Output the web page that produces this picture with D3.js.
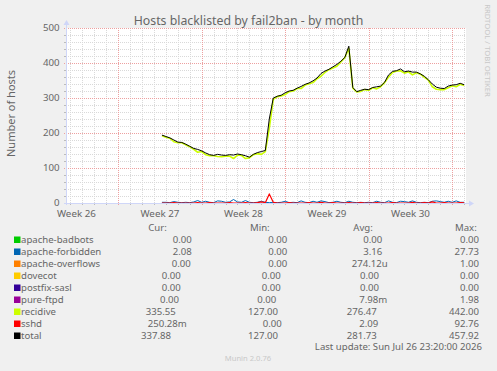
<!DOCTYPE html>
<html>
<head>
<meta charset="utf-8">
<script src="https://cdn.jsdelivr.net/npm/d3@7"></script>
<style>
  body { margin: 0; background: #f0f0f0; }
  svg { display: block; font-family: "Noto Sans", sans-serif; }
</style>
</head>
<body>
<svg id="chart" width="497" height="371"></svg>
<script>
// samples every 8 hours, first one at Jul 1 16:00
const seriesStart = "2026-07-01T16:00:00Z";
const stepHours = 8;

const total = [194, 190, 186, 180, 174, 173, 168, 162, 156, 153, 149, 143, 138, 136, 139, 137,
  136, 138, 137, 140, 138, 135, 131, 139, 144, 147, 150, 240, 300, 305, 308, 315,
  320, 322, 328, 333, 339, 343, 349, 357, 370, 377, 382, 389, 396, 405, 416, 448,
  330, 318, 322, 325, 324, 330, 332, 334, 345, 366, 376, 378, 383, 375, 377, 374,
  374, 369, 362, 352, 340, 331, 328, 327, 334, 337, 338, 342, 338];
const recidive = [192, 188, 185, 175, 172, 172, 166, 161, 153, 145, 147, 138, 135, 135, 133, 132,
  134, 134, 127, 137, 136, 127, 129, 138, 141, 139, 147, 213, 296, 304, 306, 310,
  318, 320, 327, 327, 337, 341, 344, 355, 362, 373, 381, 386, 391, 403, 415, 442,
  328, 317, 319, 324, 322, 329, 326, 332, 344, 360, 373, 377, 378, 371, 375, 366,
  372, 368, 359, 351, 332, 325, 324, 324, 329, 335, 332, 339, 335.5];
const forbidden = [2, 2, 1, 4, 2, 1, 2, 1, 3, 7, 2, 5, 2, 1, 6, 5,
  2, 3, 10, 3, 2, 7, 2, 1, 2, 5, 2, 1, 2, 1, 2, 5,
  1, 2, 1, 6, 2, 1, 5, 2, 6, 4, 1, 2, 5, 2, 1, 5,
  2, 1, 2, 1, 2, 1, 5, 2, 1, 6, 2, 1, 5, 4, 2, 6,
  2, 1, 2, 1, 5, 6, 4, 2, 5, 2, 6, 2, 2];
const sshd = [0, 0, 0, 1, 0, 0, 0, 0, 0, 1, 0, 0, 1, 0, 0, 0,
  0, 1, 0, 0, 0, 1, 0, 0, 1, 3, 1, 26, 2, 0, 0, 0,
  1, 0, 0, 0, 0, 1, 0, 0, 2, 0, 0, 1, 0, 0, 0, 1,
  0, 0, 1, 0, 0, 0, 1, 0, 0, 0, 1, 0, 0, 0, 0, 2,
  0, 0, 1, 0, 3, 0, 0, 1, 0, 0, 0, 1, 0.25];

const fieldNames = ["apache-badbots", "apache-forbidden", "apache-overflows", "dovecot",
  "postfix-sasl", "pure-ftpd", "recidive", "sshd", "total"];
const fieldColors = ["#00cc00", "#0066b3", "#ff8000", "#ffcc00", "#330099", "#990099",
  "#ccff00", "#ff0000", "#000000"];
const curValues = ["0.00", "2.08", "0.00", "0.00", "0.00", "0.00", "335.55", "250.28m", "337.88"];
const minValues = ["0.00", "0.00", "0.00", "0.00", "0.00", "0.00", "127.00", "0.00", "127.00"];
const avgValues = ["0.00", "3.16", "274.12u", "0.00", "0.00", "7.98m", "276.47", "2.09", "281.73"];
const maxValues = ["0.00", "27.73", "1.00", "0.00", "0.00", "1.98", "442.00", "92.76", "457.92"];
const yTicks = [0, 100, 200, 300, 400, 500];
const lastUpdate = "Last update: Sun Jul 26 23:20:00 2026";

// legend column starts per row (justified rrdtool legend)
const curX = [172.7, 172.7, 171.7, 161.7, 161.7, 160, 145.7, 147.7, 141];
const minX = [268.3, 268.3, 268.3, 261.7, 261.7, 257.3, 248, 262.7, 248];
const avgX = [363.3, 363.3, 351.7, 360, 360, 359.3, 346.7, 359.3, 346.7];

const textColor = "#666";
const svg = d3.select("#chart");

const plotLeft = 66, plotRight = 466, plotTop = 28, plotBottom = 203;
const x = d3.scaleUtc()
  .domain([new Date("2026-06-23T15:00:00Z"), new Date("2026-07-27T03:45:00Z")])
  .range([plotLeft, plotRight]);
const y = d3.scaleLinear().domain([0, 500]).range([plotBottom, plotTop]);

// canvas
svg.append("rect").attr("x", plotLeft).attr("y", plotTop)
  .attr("width", plotRight - plotLeft).attr("height", plotBottom - plotTop).attr("fill", "#fff");

const grid = svg.append("g").attr("shape-rendering", "crispEdges");
const [d0, d1] = x.domain();
const days = d3.utcDay.range(d0, d1);
const weeks = d3.utcSunday.range(d0, d1).map(d => +d);

// minor grid
y.ticks(25).filter(v => v % 100 !== 0).forEach(v => {
  const py = Math.round(y(v)) + 0.5;
  grid.append("line").attr("x1", plotLeft).attr("x2", plotRight).attr("y1", py).attr("y2", py)
    .attr("stroke", "#d9d9d9").attr("stroke-dasharray", "1,1");
  grid.append("line").attr("x1", plotLeft - 2).attr("x2", plotLeft).attr("y1", py).attr("y2", py)
    .attr("stroke", "#bbb");
});
days.filter(d => !weeks.includes(+d)).forEach(d => {
  const px = Math.round(x(d)) + 0.5;
  grid.append("line").attr("x1", px).attr("x2", px).attr("y1", plotTop).attr("y2", plotBottom)
    .attr("stroke", "#d9d9d9").attr("stroke-dasharray", "1,1");
  grid.append("line").attr("x1", px).attr("x2", px).attr("y1", plotBottom).attr("y2", plotBottom + 2)
    .attr("stroke", "#bbb");
});

// major grid
yTicks.forEach(v => {
  const py = Math.round(y(v)) + 0.5;
  grid.append("line").attr("x1", plotLeft - 2).attr("x2", plotRight).attr("y1", py).attr("y2", py)
    .attr("stroke", "#eda0a0").attr("stroke-dasharray", "1,1");
});
weeks.forEach(d => {
  const px = Math.round(x(d)) + 0.5;
  grid.append("line").attr("x1", px).attr("x2", px).attr("y1", plotTop).attr("y2", plotBottom + 2)
    .attr("stroke", "#eda0a0").attr("stroke-dasharray", "1,1");
});

// y labels
svg.append("g").selectAll("text").data(yTicks).join("text")
  .attr("x", 59.5).attr("y", d => y(d)).attr("dy", "0.36em")
  .attr("text-anchor", "end").attr("font-size", 9.7).attr("fill", textColor)
  .text(d => d);

// week labels, centred mid-week
const weekFmt = d3.utcFormat("Week %V");
const labelTimes = d3.utcSunday.range(d3.utcSunday.floor(d0), d1)
  .map(d => d3.utcHour.offset(d, 84))
  .filter(d => d >= d0 && d <= d1);
svg.append("g").selectAll("text").data(labelTimes).join("text")
  .attr("x", d => x(d)).attr("y", 216.5).attr("text-anchor", "middle")
  .attr("font-size", 9.8).attr("fill", textColor)
  .text(d => weekFmt(d));

// data lines
svg.append("clipPath").attr("id", "clip").append("rect")
  .attr("x", plotLeft).attr("y", plotTop - 10)
  .attr("width", plotRight - plotLeft).attr("height", plotBottom - plotTop + 12);
const t0 = new Date(seriesStart);
const times = total.map((_, i) => d3.utcHour.offset(t0, i * stepHours));
const line = d3.line().x((d, i) => x(times[i])).y(d => y(d));
const plotted = [
  { values: forbidden, color: fieldColors[1], width: 1 },
  { values: recidive, color: fieldColors[6], width: 1.6 },
  { values: sshd, color: fieldColors[7], width: 1.2 },
  { values: total, color: fieldColors[8], width: 1 }
];
svg.append("g").attr("clip-path", "url(#clip)")
  .selectAll("path").data(plotted).join("path")
  .attr("d", d => line(d.values))
  .attr("fill", "none").attr("stroke", d => d.color)
  .attr("stroke-width", d => d.width).attr("stroke-linejoin", "round");

// axes with arrows
const axisColor = "#cfd6f8";
svg.append("line").attr("x1", plotLeft - 2).attr("x2", 470)
  .attr("y1", plotBottom + 0.5).attr("y2", plotBottom + 0.5).attr("stroke", axisColor);
svg.append("path").attr("d", `M469,${plotBottom - 2.5}L474,${plotBottom + 0.5}L469,${plotBottom + 3.5}Z`)
  .attr("fill", axisColor);
svg.append("line").attr("x1", plotLeft + 0.5).attr("x2", plotLeft + 0.5)
  .attr("y1", plotBottom + 2).attr("y2", 24).attr("stroke", axisColor);
svg.append("path").attr("d", `M${plotLeft - 2.5},25L${plotLeft + 0.5},20L${plotLeft + 3.5},25Z`)
  .attr("fill", axisColor);

// title and axis label
svg.append("text").attr("x", 248.5).attr("y", 24.5).attr("text-anchor", "middle")
  .attr("font-size", 12.3).attr("fill", textColor)
  .text("Hosts blacklisted by fail2ban - by month");
svg.append("text").attr("transform", "translate(14.5,113.5) rotate(-90)")
  .attr("text-anchor", "middle").attr("font-size", 11).attr("fill", textColor)
  .text("Number of hosts");
svg.append("text").attr("transform", "translate(485,50.5) rotate(90)")
  .attr("text-anchor", "middle").attr("font-size", 7.7).attr("fill", "#c8c8c8")
  .text("RRDTOOL / TOBI OETIKER");

// legend
const legend = svg.append("g").attr("font-size", 9.6).attr("fill", textColor);
[["Cur:", 148.3], ["Min:", 250], ["Avg:", 353.3], ["Max:", 455]].forEach(([h, hx]) => {
  legend.append("text").attr("x", hx).attr("y", 231).text(h);
});
fieldNames.forEach((name, i) => {
  const by = 243 + i * 12;
  legend.append("rect").attr("x", 14).attr("y", by - 6.5).attr("width", 6.5).attr("height", 6.5)
    .attr("fill", fieldColors[i]);
  legend.append("text").attr("x", 21).attr("y", by).text(name);
  legend.append("text").attr("x", curX[i]).attr("y", by).text(curValues[i]);
  legend.append("text").attr("x", minX[i]).attr("y", by).text(minValues[i]);
  legend.append("text").attr("x", avgX[i]).attr("y", by).text(avgValues[i]);
  legend.append("text").attr("x", 479).attr("y", by).attr("text-anchor", "end").text(maxValues[i]);
});
legend.append("text").attr("x", 482).attr("y", 350).attr("text-anchor", "end").text(lastUpdate);
svg.append("text").attr("x", 248).attr("y", 361).attr("text-anchor", "middle")
  .attr("font-size", 7.6).attr("fill", "#c8c8c8").text("Munin 2.0.76");
</script>
</body>
</html>
